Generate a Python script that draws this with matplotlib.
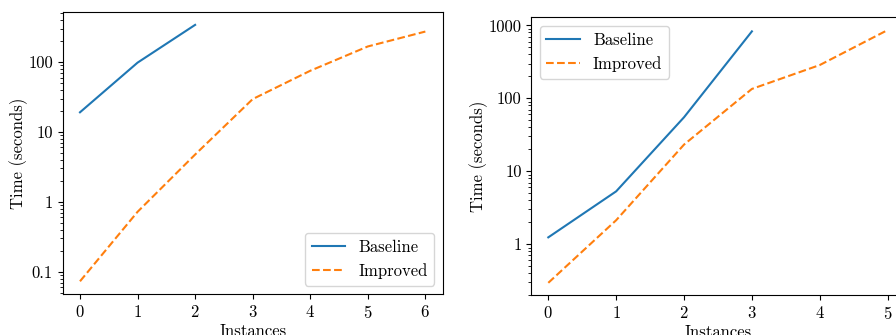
import matplotlib
matplotlib.use("Agg")
import matplotlib.pyplot as plt
from matplotlib.ticker import FuncFormatter

plt.rcParams["font.family"] = "serif"
plt.rcParams["font.serif"] = ["cmr10", "DejaVu Serif"]
plt.rcParams["mathtext.fontset"] = "cm"
plt.rcParams["axes.formatter.use_mathtext"] = True
plt.rcParams["font.size"] = 12

# left panel
left_base_x = [0, 1, 2]
left_base_y = [19.1, 98, 340]
left_impr_x = [0, 1, 2, 3, 4, 5, 6]
left_impr_y = [0.073, 0.72, 4.75, 29.5, 75, 167, 273]

# right panel
right_base_x = [0, 1, 2, 3]
right_base_y = [1.24, 5.3, 55, 828]
right_impr_x = [0, 1, 2, 3, 4, 5]
right_impr_y = [0.295, 2.13, 23.2, 134.5, 286, 863]

fig = plt.figure(figsize=(8.96, 3.35), dpi=100)
ax1 = fig.add_axes([0.070, 0.122, 0.424, 0.842])
ax2 = fig.add_axes([0.593, 0.118, 0.4166, 0.830])

fmt = FuncFormatter(lambda v, _: f"{v:g}")


def draw(ax, bx, by, ix, iy, loc):
    ax.plot(bx, by, color="C0", linestyle="-", label="Baseline")
    ax.plot(ix, iy, color="C1", linestyle="--", label="Improved")
    ax.set_yscale("log")
    ax.yaxis.set_major_formatter(fmt)
    ax.set_xlabel("Instances", labelpad=2)
    ax.set_ylabel("Time (seconds)", labelpad=0.5)
    ax.legend(loc=loc)


draw(ax1, left_base_x, left_base_y, left_impr_x, left_impr_y, "lower right")
draw(ax2, right_base_x, right_base_y, right_impr_x, right_impr_y, "upper left")

fig.savefig("out.png", dpi=100)
